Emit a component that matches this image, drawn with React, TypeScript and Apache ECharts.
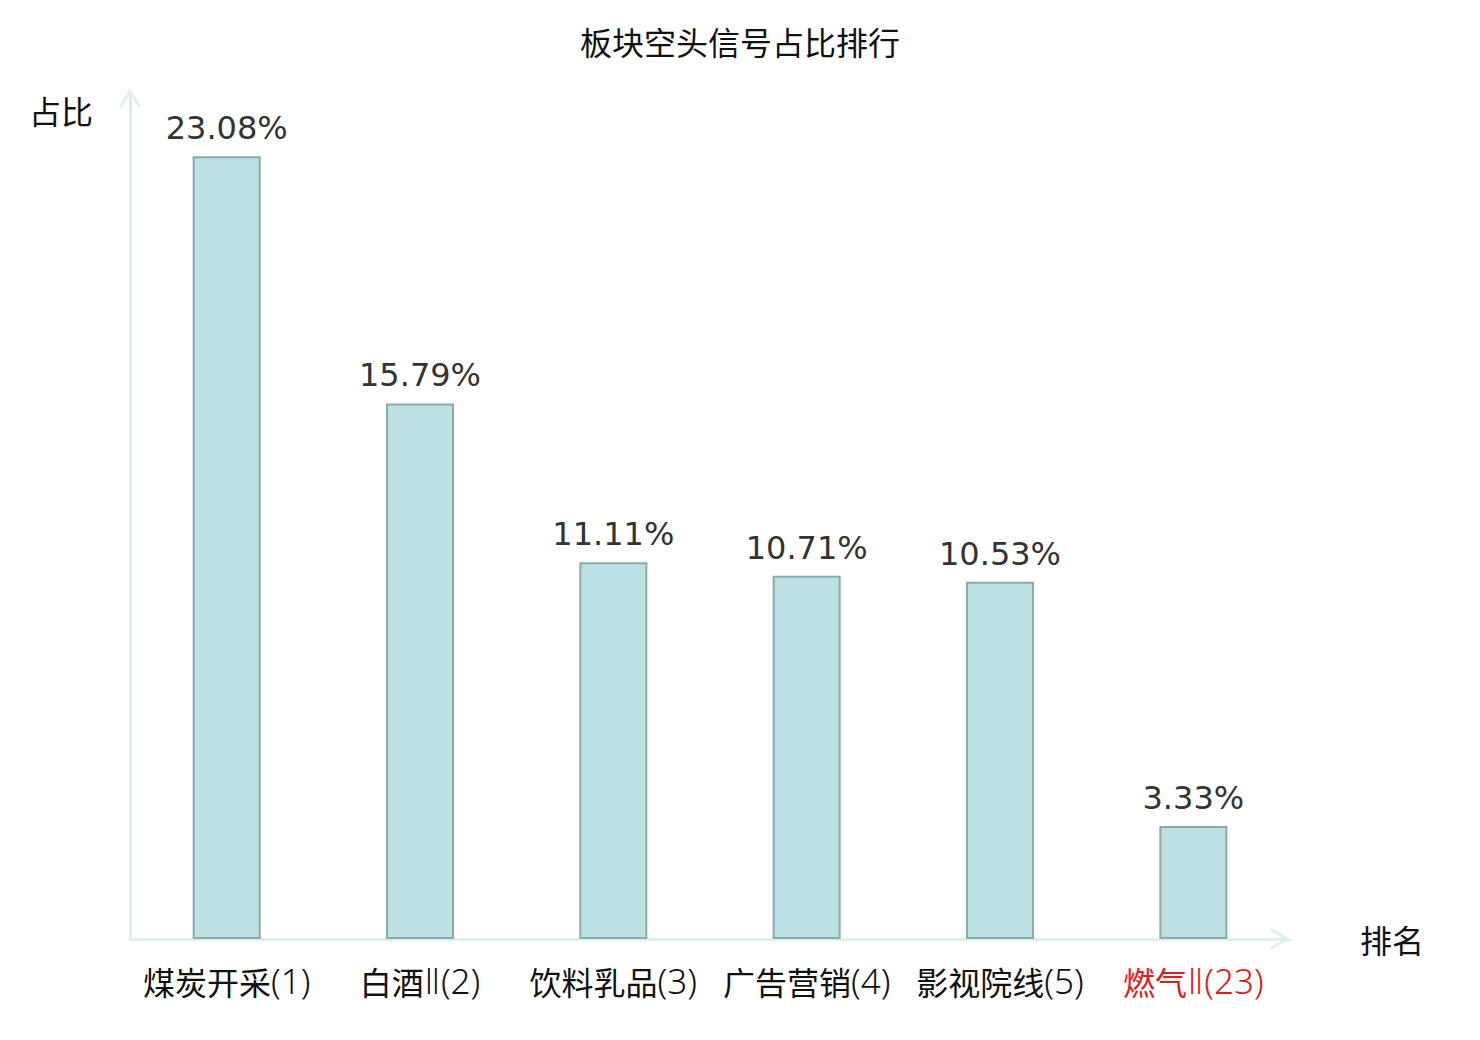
import React, { useEffect, useRef } from "react";
import * as echarts from "echarts";

const categories = ["煤炭开采(1)", "白酒Ⅱ(2)", "饮料乳品(3)", "广告营销(4)", "影视院线(5)", "燃气Ⅱ(23)"];
const values = [23.08, 15.79, 11.11, 10.71, 10.53, 3.33];
const highlightIndex = [5];
const titleText = "板块空头信号占比排行";
const xName = "排名";
const yName = "占比";

const CJK = '"Noto Sans CJK SC", "DejaVu Sans", sans-serif';
const LATIN = '"Noto Sans", "DejaVu Sans", sans-serif';
const NUM = '"DejaVu Sans", "Noto Sans CJK SC", sans-serif';
const AXIS_COLOR = "#dcf1ee";
const CHEVRON = "path://M0,19 L11,0 L22,19 L19.4,20 L11,5.6 L2.6,20 Z";

function splitLabel(s: string, hi: boolean) {
  const m = s.match(/^([\u4e00-\u9fff]+)(.*)$/);
  const a = m ? m[1] : s;
  const b = m ? m[2] : "";
  const c = hi ? "ch" : "c";
  const n = hi ? "nh" : "n";
  return `{${c}|${a}}` + (b ? `{${n}|${b}}` : "");
}

export default function App() {
  const ref = useRef<HTMLDivElement>(null);
  useEffect(() => {
    document.body.style.margin = "0";
    const chart = echarts.init(ref.current!, null, { renderer: "svg" });
    const base = { fontSize: 32, color: "#111" };
    const latin = { fontSize: 35, color: "#111", fontFamily: LATIN, fontWeight: 300 };
    chart.setOption({
      animation: false,
      backgroundColor: "#ffffff",
      title: {
        text: titleText,
        left: "center",
        top: 20,
        textStyle: { fontFamily: CJK, fontSize: 32, fontWeight: "normal", color: "#111" },
      },
      grid: { left: 130, right: 190, top: 91, bottom: 101, containLabel: false },
      xAxis: {
        type: "category",
        data: categories,
        name: xName,
        nameLocation: "end",
        nameGap: 70,
        nameTextStyle: { fontFamily: CJK, fontSize: 32, color: "#111", verticalAlign: "middle" },
        axisLine: {
          show: true,
          lineStyle: { color: AXIS_COLOR, width: 3 },
          symbol: ["none", CHEVRON],
          symbolSize: [22, 20],
          symbolOffset: [0, -10],
        },
        axisTick: { show: false },
        axisLabel: {
          margin: 24,
          interval: 0,
          formatter: (v: string, i: number) => splitLabel(v, highlightIndex.indexOf(i) >= 0),
          rich: {
            c: { ...base, fontFamily: CJK },
            n: { ...latin },
            ch: { ...base, fontFamily: CJK, color: "#e31a1c" },
            nh: { ...latin, color: "#e31a1c" },
          },
        },
        splitLine: { show: false },
      },
      yAxis: {
        type: "value",
        min: 0,
        max: 25,
        name: yName,
        nameLocation: "end",
        nameGap: -19,
        nameTextStyle: {
          fontFamily: CJK,
          fontSize: 32,
          color: "#111",
          align: "right",
          verticalAlign: "middle",
          padding: [0, 37, 0, 0],
        },
        axisLine: {
          show: true,
          lineStyle: { color: AXIS_COLOR, width: 3 },
          symbol: ["none", CHEVRON],
          symbolSize: [22, 20],
          symbolOffset: [0, -7],
        },
        axisTick: { show: false },
        axisLabel: { show: false },
        splitLine: { show: false },
      },
      series: [
        {
          type: "bar",
          data: values,
          barWidth: 68,
          itemStyle: { color: "#bce0e3", borderColor: "#8aa9ab", borderWidth: 2 },
          label: {
            show: true,
            position: "top",
            distance: 12,
            formatter: "{c}%",
            fontFamily: NUM,
            fontSize: 32,
            color: "#333",
          },
        },
      ],
    });
    return () => chart.dispose();
  }, []);
  return <div ref={ref} style={{ width: 1480, height: 1040 }} />;
}
